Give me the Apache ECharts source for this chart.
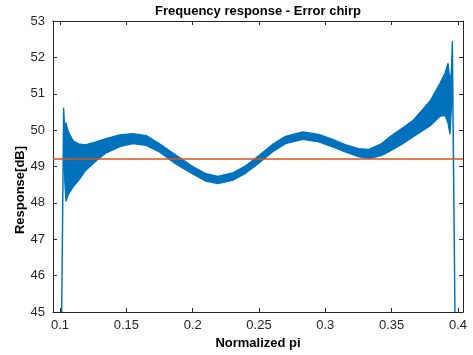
<!DOCTYPE html>
<html><head><meta charset="utf-8">
<script src="https://cdn.jsdelivr.net/npm/echarts@6/dist/echarts.min.js"></script>
<style>html,body{margin:0;padding:0;background:#fff}#c{width:473px;height:355px}</style>
</head><body><div id="c"></div>
<script>
// Envelope of the (rapidly oscillating) error-chirp response
const freq = [0.1010, 0.1027, 0.1036, 0.1045, 0.1058, 0.1075, 0.1100, 0.1140, 0.1190, 0.1260, 0.1340, 0.1450, 0.1550, 0.1650, 0.1750, 0.1870, 0.2000, 0.2100, 0.2190, 0.2300, 0.2400, 0.2500, 0.2600, 0.2700, 0.2830, 0.2950, 0.3050, 0.3150, 0.3250, 0.3330, 0.3420, 0.3500, 0.3580, 0.3663, 0.3730, 0.3790, 0.3864, 0.3902, 0.3925, 0.3940, 0.3950, 0.3958, 0.3980];
const upper = [44.0, 50.60, 49.95, 50.20, 50.00, 49.86, 49.70, 49.62, 49.59, 49.66, 49.76, 49.87, 49.90, 49.85, 49.62, 49.32, 49.00, 48.80, 48.73, 48.82, 49.02, 49.30, 49.60, 49.83, 49.95, 49.88, 49.75, 49.60, 49.49, 49.47, 49.62, 49.85, 50.05, 50.27, 50.55, 50.80, 51.28, 51.56, 51.83, 51.30, 51.60, 52.43, 44.0];
const lower = [44.0, 50.30, 48.60, 48.05, 48.20, 48.30, 48.45, 48.62, 48.88, 49.12, 49.36, 49.55, 49.63, 49.58, 49.40, 49.08, 48.80, 48.60, 48.53, 48.62, 48.82, 49.10, 49.40, 49.63, 49.75, 49.68, 49.55, 49.40, 49.27, 49.22, 49.30, 49.45, 49.62, 49.82, 49.98, 50.12, 50.38, 50.41, 50.20, 49.90, 50.60, 52.00, 44.0];
const reference = 49.2;
const xTicks = [0.1, 0.15, 0.2, 0.25, 0.3, 0.35, 0.4];
const yTicks = [45, 46, 47, 48, 49, 50, 51, 52, 53];

const blue = '#0072BD', orange = '#D95319', axisCol = '#262626';
const font = 'Liberation Sans, Arial, Helvetica, sans-serif';
const bandData = freq.map((f, i) => [f, lower[i], upper[i]]);

const xMin = 0.0947, xMax = 0.4038;
const chart = echarts.init(document.getElementById('c'), null, {renderer: 'canvas'});
const axisLineStyle = {lineStyle: {color: axisCol, width: 1}};
chart.setOption({
  animation: false,
  backgroundColor: '#fff',
  title: {text: 'Frequency response - Error chirp', left: 258, textAlign: 'center', top: 5, padding: 0,
    textStyle: {fontFamily: font, fontSize: 13, fontWeight: 'bold', color: '#000'}},
  grid: {left: 53, right: 10, top: 21, bottom: 43},
  xAxis: [
    {type: 'value', min: xMin, max: xMax, position: 'bottom',
     axisLine: axisLineStyle, splitLine: {show: false},
     axisTick: {inside: true, length: 4, customValues: xTicks, lineStyle: {color: axisCol}},
     axisLabel: {customValues: xTicks, margin: 7, fontFamily: font, fontSize: 13, color: axisCol}},
    {type: 'value', min: xMin, max: xMax, position: 'top',
     axisLine: axisLineStyle, splitLine: {show: false},
     axisTick: {inside: true, length: 4, customValues: xTicks, lineStyle: {color: axisCol}},
     axisLabel: {show: false}}
  ],
  yAxis: [
    {type: 'value', min: 45, max: 53, interval: 1, position: 'left',
     axisLine: {show: true, lineStyle: {color: axisCol}}, splitLine: {show: false},
     axisTick: {show: true, inside: true, length: 4, lineStyle: {color: axisCol}},
     axisLabel: {margin: 8, fontFamily: font, fontSize: 13, color: axisCol,
       formatter: v => yTicks.includes(v) ? String(v) : ''}},
    {type: 'value', min: 45, max: 53, interval: 1, position: 'right',
     axisLine: {show: true, lineStyle: {color: axisCol}}, splitLine: {show: false},
     axisTick: {show: true, inside: true, length: 4, lineStyle: {color: axisCol}},
     axisLabel: {show: false}}
  ],
  series: [
    {type: 'custom', name: 'band', data: bandData, clip: true, z: 2,
     encode: {x: 0, y: [1, 2]},
     renderItem: function (params, api) {
       if (params.dataIndex !== 0) return null;
       const top = bandData.map(d => api.coord([d[0], d[2]]));
       const bot = bandData.map(d => api.coord([d[0], d[1]])).reverse();
       return {type: 'polygon', shape: {points: top.concat(bot)},
         style: {fill: blue, stroke: blue, lineWidth: 1.4, lineJoin: 'round'}};
     }},
    {type: 'line', name: 'ref', data: [], symbol: 'none', z: 5,
     markLine: {silent: true, symbol: 'none', label: {show: false},
       lineStyle: {color: orange, width: 1.6, type: 'solid'},
       data: [{yAxis: reference}], z: 5}}
  ],
  graphic: [
    {type: 'text', x: 258, y: 343, style: {text: 'Normalized pi', font: 'bold 13px ' + font,
      fill: '#000', align: 'center', verticalAlign: 'middle'}},
    {type: 'text', x: 20, y: 190, rotation: Math.PI / 2, style: {text: 'Response[dB]', font: 'bold 13px ' + font,
      fill: '#000', align: 'center', verticalAlign: 'middle'}}
  ]
});
</script></body></html>
